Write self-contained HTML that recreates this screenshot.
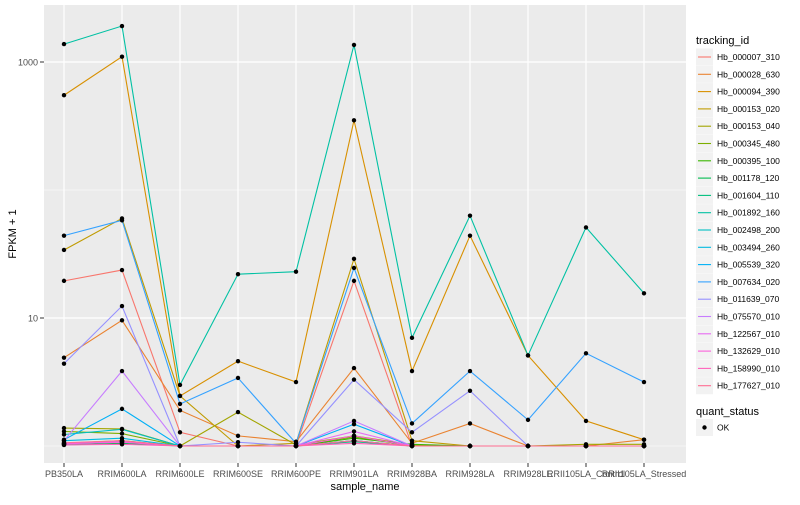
<!DOCTYPE html>
<html><head><meta charset="utf-8"><style>
body{margin:0;background:#fff;font-family:"Liberation Sans",sans-serif;}
svg text{font-family:"Liberation Sans",sans-serif;}
</style></head><body>
<svg id="chart" width="800" height="500" xmlns="http://www.w3.org/2000/svg">
<rect x="0" y="0" width="800" height="500" fill="#fff"/>
<rect x="44" y="5" width="642" height="458" fill="#EBEBEB"/>
<g id="grid"></g><g id="lines"></g><g id="points"></g><g id="axes"></g><g id="legend"></g>
</svg>
<script>
const categories=["PB350LA","RRIM600LA","RRIM600LE","RRIM600SE","RRIM600PE","RRIM901LA","RRIM928BA","RRIM928LA","RRIM928LE","RRII105LA_Control","RRII105LA_Stressed"];
const seriesIds=["Hb_000007_310","Hb_000028_630","Hb_000094_390","Hb_000153_020","Hb_000153_040","Hb_000345_480","Hb_000395_100","Hb_001178_120","Hb_001604_110","Hb_001892_160","Hb_002498_200","Hb_003494_260","Hb_005539_320","Hb_007634_020","Hb_011639_070","Hb_075570_010","Hb_122567_010","Hb_132629_010","Hb_158990_010","Hb_177627_010"];
const colors=["#F8766D","#EA8331","#D89000","#C09B00","#A3A500","#7CAE00","#39B600","#00BB4E","#00BF7D","#00C1A3","#00BFC4","#00BAE0","#00B0F6","#35A2FF","#9590FF","#C77CFF","#E76BF3","#FA62DB","#FF62BC","#FF6C91"];
const s01=[19.5,23.7,1.28,1,1,19.5,1,1,1,1,1];
const s02=[4.9,9.6,1.9,1.2,1.08,4.06,1.05,1.5,1,1,1.12];
const s03=[550,1100,2.46,4.6,3.16,350,3.85,44,5.1,1.57,1.12];
const s04=[34,60,2.46,1,1.05,29,1.1,1,1,1,1];
const s05=[1.38,1.36,1,1.84,1.02,1.2,1.02,1,1,1.03,1.03];
const s06=[1.3,1.25,1,1,1,1.18,1,1,1,1,1];
const s07=[1.05,1.1,1,1,1,1.15,1.03,1,1,1,1];
const s08=[1.02,1.05,1,1,1,1.1,1,1,1,1,1];
const s09=[1.03,1.08,1,1,1,1.08,1,1,1,1,1];
const s10=[1380,1910,3.0,22,23,1360,7,63,5.1,51,15.6];
const s11=[1.23,1.35,1,1,1,1.1,1,1,1,1,1];
const s12=[1.1,1.15,1,1,1,1.1,1,1,1,1,1];
const s13=[1.12,1.95,1,1,1,1.48,1,1,1,1,1];
const s14=[44,58,2.13,3.4,1.05,24.6,1.5,3.85,1.6,5.3,3.16];
const s15=[4.4,12.4,1,1.07,1,3.3,1.28,2.7,1,1,1];
const s16=[1.1,3.85,1,1,1,1.57,1,1,1,1,1];
const s17=[1.05,1.08,1,1,1,1.3,1,1,1,1,1];
const s18=[1.04,1.07,1,1,1,1.2,1,1,1,1,1];
const s19=[1.02,1.03,1,1,1,1.05,1,1,1,1,1];
const s20=[1.06,1.1,1,1,1,1.1,1,1,1,1,1];
const seriesValues=[s01,s02,s03,s04,s05,s06,s07,s08,s09,s10,s11,s12,s13,s14,s15,s16,s17,s18,s19,s20];
const yTicks=[10,1000];
const yMinor=[1,100];

const NS="http://www.w3.org/2000/svg";
function xs(i){return 64+i*58;}
function ys(v){return 446-128*Math.log10(v);}
function mk(tag,attrs,parent){const e=document.createElementNS(NS,tag);for(const k in attrs)e.setAttribute(k,attrs[k]);parent.appendChild(e);return e;}
const grid=document.getElementById('grid'),lines=document.getElementById('lines'),pts=document.getElementById('points'),axes=document.getElementById('axes'),leg=document.getElementById('legend');
yMinor.forEach(v=>{const l=mk('line',{x1:44,x2:686,y1:ys(v),y2:ys(v),stroke:'#fff','stroke-width':0.6},grid);

});
yTicks.forEach(v=>{const l=mk('line',{x1:44,x2:686,y1:ys(v),y2:ys(v),stroke:'#fff','stroke-width':1.2},grid);


const t=mk('line',{x1:40,x2:44,y1:ys(v),y2:ys(v),stroke:'#333','stroke-width':1},axes);


const tx=mk('text',{x:38,y:ys(v)+3.5,'text-anchor':'end','font-size':9,fill:'#4d4d4d'},axes);tx.textContent=v;

});
categories.forEach((c,i)=>{const l=mk('line',{x1:xs(i),x2:xs(i),y1:5,y2:463,stroke:'#fff','stroke-width':1.2},grid);


const t=mk('line',{x1:xs(i),x2:xs(i),y1:463,y2:467,stroke:'#333','stroke-width':1},axes);


const tx=mk('text',{x:xs(i),y:477,'text-anchor':'middle','font-size':9,fill:'#4d4d4d'},axes);tx.textContent=c;

});
seriesValues.forEach((vals,si)=>{
const p=mk('polyline',{points:vals.map((v,i)=>xs(i)+','+ys(v)).join(' '),fill:'none',stroke:colors[si],'stroke-width':1.1},lines);


vals.forEach((v,i)=>{const c=mk('circle',{cx:xs(i),cy:ys(v),r:2.2,fill:'#000'},pts);

});});
const xt=mk('text',{x:365,y:490,'text-anchor':'middle','font-size':11,fill:'#000'},axes);xt.textContent='sample_name';


const yt=mk('text',{x:16,y:234,'text-anchor':'middle','font-size':11,fill:'#000',transform:'rotate(-90 16 234)'},axes);yt.textContent='FPKM + 1';


const lt=mk('text',{x:696,y:44,'font-size':11,fill:'#000'},leg);lt.textContent='tracking_id';


seriesIds.forEach((id,i)=>{const y=57+i*17.3;
const b=mk('rect',{x:696,y:y-8.5,width:17,height:17,fill:'#F2F2F2'},leg);


const l=mk('line',{x1:698,x2:711,y1:y,y2:y,stroke:colors[i],'stroke-width':1.1},leg);


const t=mk('text',{x:717,y:y+3,'font-size':8.5,fill:'#000'},leg);t.textContent=id;

});
const qt=mk('text',{x:696,y:415,'font-size':11,fill:'#000'},leg);qt.textContent='quant_status';


const qb=mk('rect',{x:696,y:419,width:17,height:17,fill:'#F2F2F2'},leg);


const qc=mk('circle',{cx:704.5,cy:427.5,r:2.2,fill:'#000'},leg);


const qx=mk('text',{x:717,y:430.5,'font-size':8.5,fill:'#000'},leg);qx.textContent='OK';


</script>
</body></html>
